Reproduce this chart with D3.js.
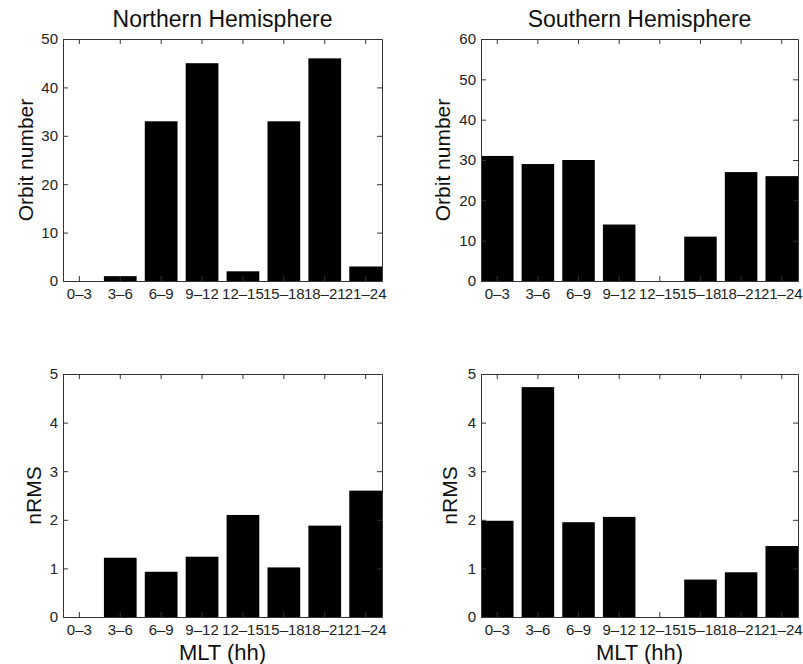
<!DOCTYPE html>
<html><head><meta charset="utf-8">
<script src="https://cdn.jsdelivr.net/npm/d3@7"></script>
<style>
body{margin:0;background:#fff;}
svg{display:block;font-family:"Liberation Sans",Arial,Helvetica,sans-serif;}
</style></head>
<body>
<svg id="chart" width="803" height="664"></svg>
<script>
const categories = ["0–3","3–6","6–9","9–12","12–15","15–18","18–21","21–24"];
const northOrbits = [0, 1, 33, 45, 2, 33, 46, 3];
const southOrbits = [31, 29, 30, 14, 0, 11, 27, 26];
const northNRMS = [0, 1.22, 0.93, 1.24, 2.1, 1.02, 1.88, 2.6];
const southNRMS = [1.98, 4.73, 1.95, 2.06, 0, 0.77, 0.92, 1.46];
const titles = ["Northern Hemisphere", "Southern Hemisphere"];
const yLabels = ["Orbit number", "nRMS"];
const xLabel = "MLT (hh)";
const northOrbitTicks = [0, 10, 20, 30, 40, 50];
const southOrbitTicks = [0, 10, 20, 30, 40, 50, 60];
const nrmsTicks = [0, 1, 2, 3, 4, 5];

const panels = [
  {data: northOrbits, ymax: 50, ticks: northOrbitTicks, left: 63, right: 382, top: 39, bottom: 281, title: titles[0], ylab: yLabels[0], ylabX: 33, xlab: false},
  {data: southOrbits, ymax: 60, ticks: southOrbitTicks, left: 481, right: 798, top: 39, bottom: 281, title: titles[1], ylab: yLabels[0], ylabX: 450, xlab: false},
  {data: northNRMS, ymax: 5, ticks: nrmsTicks, left: 63, right: 382, top: 374, bottom: 617, title: null, ylab: yLabels[1], ylabX: 41, xlab: true},
  {data: southNRMS, ymax: 5, ticks: nrmsTicks, left: 481, right: 798, top: 374, bottom: 617, title: null, ylab: yLabels[1], ylabX: 457, xlab: true}
];

const svg = d3.select("#chart");

panels.forEach(p => {
  const x = d3.scaleBand().domain(categories).range([p.left, p.right]).paddingInner(0.2).paddingOuter(0);
  const y = d3.scaleLinear().domain([0, p.ymax]).range([p.bottom, p.top]);
  const g = svg.append("g");

  g.selectAll("rect.bar").data(p.data).join("rect")
    .attr("class", "bar")
    .attr("x", (d, i) => x(categories[i]))
    .attr("width", x.bandwidth())
    .attr("y", d => y(d))
    .attr("height", d => y(0) - y(d))
    .attr("fill", "#000");

  const styleAxis = sel => {
    sel.selectAll("path.domain").attr("stroke", "#333").attr("stroke-width", 1);
    sel.selectAll(".tick line").attr("stroke", "#333");
    sel.selectAll("text").attr("fill", "#222").attr("font-size", "15px")
      .attr("font-family", "'Liberation Sans',Arial,Helvetica,sans-serif");
  };

  g.append("g").attr("transform", `translate(0,${p.bottom})`)
    .call(d3.axisBottom(x).tickSize(-5).tickSizeOuter(0).tickPadding(7))
    .call(styleAxis);
  g.append("g").attr("transform", `translate(0,${p.top})`)
    .call(d3.axisTop(x).tickSize(-5).tickSizeOuter(0).tickFormat(""))
    .call(styleAxis);
  g.append("g").attr("transform", `translate(${p.left},0)`)
    .call(d3.axisLeft(y).tickValues(p.ticks).tickFormat(d3.format("d")).tickSize(-5).tickSizeOuter(0).tickPadding(5))
    .call(styleAxis);
  g.append("g").attr("transform", `translate(${p.right},0)`)
    .call(d3.axisRight(y).tickValues(p.ticks).tickSize(-5).tickSizeOuter(0).tickFormat(""))
    .call(styleAxis);

  const cx = (p.left + p.right) / 2;
  if (p.title) {
    g.append("text").attr("x", cx).attr("y", 27).attr("text-anchor", "middle")
      .attr("font-size", "23px").attr("fill", "#111").text(p.title);
  }
  g.append("text")
    .attr("transform", `translate(${p.ylabX},${(p.top + p.bottom) / 2}) rotate(-90)`)
    .attr("text-anchor", "middle").attr("font-size", "21px").attr("fill", "#111")
    .text(p.ylab);
  if (p.xlab) {
    g.append("text").attr("x", cx).attr("y", 660).attr("text-anchor", "middle")
      .attr("font-size", "22px").attr("fill", "#111").text(xLabel);
  }
});
</script>
</body></html>
